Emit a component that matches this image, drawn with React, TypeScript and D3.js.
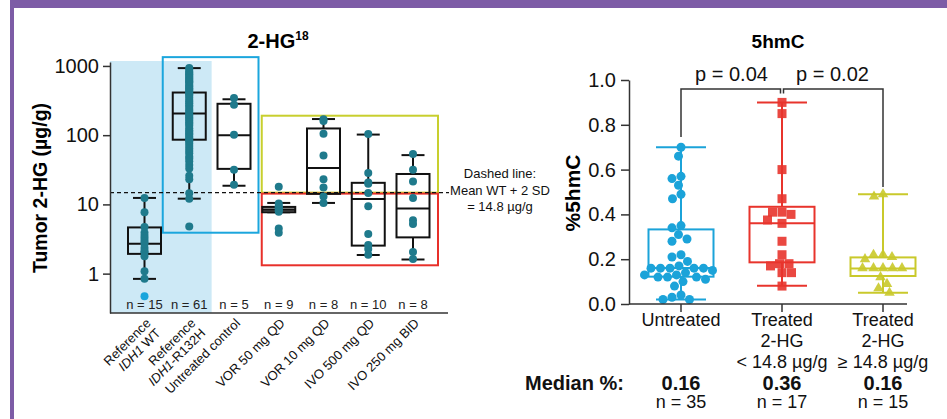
import { useEffect, useRef } from "react";
import * as d3 from "d3";

const W = 947;
const H = 419;
const FONT = "Liberation Sans, Arial, sans-serif";

// ---- left panel: tumor 2-HG (log scale) ----
const hgGroups = ["wt", "r132h", "untreated", "vor50", "vor10", "ivo500", "ivo250"];
const hgN = [15, 61, 5, 9, 8, 10, 8];
const hgQ1 = [1.93, 86, 32.6, 7.7, 14.2, 2.54, 3.34];
const hgMedian = [2.7, 206, 100, 8.4, 33.5, 12, 8.7];
const hgQ3 = [4.65, 413, 284, 9.2, 125, 20.5, 27.5];
const hgLow = [0.84, 12.1, 18.6, 7.7, 10.5, 1.86, 1.6];
const hgHigh = [12.4, 930, 330, 10.5, 171, 102, 51.5];

const wtPoints = [12.4, 7.7, 4.7, 3.9, 3.5, 3.2, 2.9, 2.7, 2.35, 2.1, 2.03, 1.78, 1.08, 0.84];
const wtOutlier = [0.47];
const r132hPoints = [
  930, 880, 827, 790, 758, 720, 693, 660, 628, 600, 581, 550, 519, 500, 476, 455, 435, 410,
  390, 370, 348, 323, 305, 289, 270, 258, 239, 225, 214, 200, 191, 180, 171, 162, 153, 145,
  137, 126, 118, 112, 106, 101, 95, 90, 86, 82, 76, 70, 64, 59, 55, 49, 46, 42, 37, 33, 26,
  23, 14.5, 12.1, 4.8,
];
const untreatedCtrlPoints = [343, 275, 101, 31.7, 19.2];
const vor50Points = [18, 10.3, 9.4, 9.0, 8.6, 8.2, 7.8, 4.5, 3.9];
const vor10Points = [170, 160, 105, 51, 23, 17.5, 13, 10.5];
const ivo500Points = [104, 28.4, 20.8, 19.8, 14.6, 9.4, 3.74, 2.6, 2.27, 1.88];
const ivo250Points = [53.4, 31.7, 21.5, 12.4, 5.9, 5.2, 2.06, 1.63];
const hgPoints = [wtPoints, r132hPoints, untreatedCtrlPoints, vor50Points, vor10Points, ivo500Points, ivo250Points];

const hgTicks = [1, 10, 100, 1000];
const threshold = 14.8;

// ---- right panel: 5hmC ----
const hmcGroups = ["untreated", "low", "high"];
const hmcN = [35, 17, 15];
const hmcMedianText = ["0.16", "0.36", "0.16"];
const hmcQ1 = [0.122, 0.186, 0.125];
const hmcMedian = [0.161, 0.36, 0.159];
const hmcQ3 = [0.333, 0.434, 0.208];
const hmcLow = [0.02, 0.082, 0.05];
const hmcHigh = [0.7, 0.9, 0.49];

const hmcUntreated = [
  0.7, 0.66, 0.57, 0.56, 0.53, 0.49, 0.47, 0.35, 0.34, 0.31, 0.29, 0.28, 0.22, 0.21, 0.19, 0.17,
  0.16, 0.16, 0.16, 0.16, 0.16, 0.15, 0.14, 0.13, 0.13, 0.12, 0.12, 0.12, 0.11, 0.1, 0.08, 0.04,
  0.03, 0.02, 0.02,
];
const hmcLow2hg = [0.9, 0.85, 0.6, 0.47, 0.41, 0.41, 0.4, 0.375, 0.36, 0.28, 0.22, 0.18, 0.18, 0.17, 0.14, 0.14, 0.08];
const hmcHigh2hg = [0.49, 0.48, 0.22, 0.22, 0.21, 0.2, 0.16, 0.16, 0.16, 0.16, 0.16, 0.12, 0.09, 0.07, 0.05];
const hmcPoints = [hmcUntreated, hmcLow2hg, hmcHigh2hg];
const hmcColors = ["#1ba3d9", "#e8342c", "#c9c92b"];
const hmcTicks = [0, 0.2, 0.4, 0.6, 0.8, 1.0];

const TEAL = "#1f7a8c";

// simple greedy beeswarm: returns x offsets
function dodge(ys: number[], d: number) {
  const placed: { x: number; y: number }[] = [];
  const order = ys.map((y, i) => ({ y, i })).sort((a, b) => a.y - b.y);
  const out = new Array(ys.length).fill(0);
  order.forEach(({ y, i }) => {
    let dx = 0;
    for (let k = 0; k < 200; k++) {
      const c = k === 0 ? 0 : (k % 2 ? -1 : 1) * Math.ceil(k / 2) * 0.5;
      const ok = placed.every((p) => (p.x - c) ** 2 + (p.y - y) ** 2 >= d * d);
      if (ok) {
        dx = c;
        break;
      }
    }
    placed.push({ x: dx, y });
    out[i] = dx;
  });
  return out;
}

const App = () => {
  const leftAxis = useRef<SVGGElement>(null);
  const rightAxis = useRef<SVGGElement>(null);

  // left scales
  const yL = d3.scaleLog().domain([0.27, 1140]).range([313, 62]);
  const xL = d3.scalePoint().domain(hgGroups).range([144.5, 413]);
  const stepL = xL.step();
  const axL = 110;

  // right scales
  const yR = d3.scaleLinear().domain([0, 1]).range([304, 80]);
  const xR = d3.scalePoint().domain(hmcGroups).range([681, 883]);
  const axR = 629;

  useEffect(() => {
    const gl = d3.select(leftAxis.current);
    gl.selectAll("*").remove();
    gl.call(
      d3.axisLeft(yL).tickValues(hgTicks).tickFormat(d3.format("d")).tickSize(7).tickSizeOuter(0) as any
    );
    gl.selectAll("text").attr("font-size", 20).attr("font-family", FONT).attr("fill", "#111").attr("dx", "-1");
    gl.selectAll("path,line").attr("stroke", "#333").attr("stroke-width", 1.5);

    const gr = d3.select(rightAxis.current);
    gr.selectAll("*").remove();
    gr.call(
      d3.axisLeft(yR).tickValues(hmcTicks).tickFormat(d3.format(".1f")).tickSize(8).tickSizeOuter(0) as any
    );
    gr.selectAll("text").attr("font-size", 20).attr("font-family", FONT).attr("fill", "#111").attr("dx", "-2");
    gr.selectAll("path,line").attr("stroke", "#333").attr("stroke-width", 1.5);
  }, []);

  const xLabels: { t: string; i?: boolean }[][][] = [
    [[{ t: "Reference" }], [{ t: "IDH1", i: true }, { t: " WT" }]],
    [[{ t: "Reference" }], [{ t: "IDH1", i: true }, { t: "-R132H" }]],
    [[{ t: "Untreated control" }]],
    [[{ t: "VOR 50 mg QD" }]],
    [[{ t: "VOR 10 mg QD" }]],
    [[{ t: "IVO 500 mg QD" }]],
    [[{ t: "IVO 250 mg BID" }]],
  ];

  const hmcLabels = [["Untreated"], ["Treated", "2-HG", "< 14.8 µg/g"], ["Treated", "2-HG", "≥ 14.8 µg/g"]];

  const bracketTop = yR(0.96);
  const c0 = xR(hmcGroups[0])!;
  const c1 = xR(hmcGroups[1])!;
  const c2 = xR(hmcGroups[2])!;

  const sq = d3.symbol(d3.symbolSquare, 81)()!;
  const tri = d3.symbol(d3.symbolTriangle, 48)()!;

  return (
    <svg width={W} height={H} style={{ display: "block", fontFamily: FONT }}>
      <style>{`body{margin:0}`}</style>
      {/* purple frame */}
      <rect x={10} y={0} width={W - 10} height={8} fill="#7d5ca6" />
      <rect x={10} y={0} width={4} height={H} fill="#7d5ca6" />

      {/* ===== left panel ===== */}
      <text x={278} y={48} textAnchor="middle" fontSize={20} fontWeight="bold">
        2-HG<tspan fontSize={12} dy={-8}>18</tspan>
      </text>
      <text transform={`translate(47,188) rotate(-90)`} textAnchor="middle" fontSize={19.5} fontWeight="bold">
        Tumor 2-HG (µg/g)
      </text>

      {/* reference band */}
      <rect
        x={axL}
        y={yL.range()[1] - 1}
        width={xL(hgGroups[1])! + stepL / 2 - axL}
        height={yL.range()[0] - yL.range()[1] + 1}
        fill="#cde9f6"
      />
      {/* group frames */}
      <rect
        x={xL(hgGroups[1])! - 26.5}
        y={yL(1340)}
        width={xL(hgGroups[2])! + 24.5 - (xL(hgGroups[1])! - 26.5)}
        height={yL(3.9) - yL(1340)}
        fill="none"
        stroke="#1ba6dd"
        strokeWidth={2}
      />
      <rect
        x={xL(hgGroups[3])! - 17}
        y={yL(191)}
        width={xL(hgGroups[6])! + 25 - (xL(hgGroups[3])! - 17)}
        height={yL(threshold) - yL(191)}
        fill="none"
        stroke="#c8cf2e"
        strokeWidth={2}
      />
      <rect
        x={xL(hgGroups[3])! - 17}
        y={yL(threshold) + 1}
        width={xL(hgGroups[6])! + 25 - (xL(hgGroups[3])! - 17)}
        height={yL(1.32) - yL(threshold) - 1}
        fill="none"
        stroke="#e8302a"
        strokeWidth={2}
      />

      {/* boxes */}
      {hgGroups.map((g, i) => {
        const cx = xL(g)!;
        const bw = 33;
        const cw = 23;
        return (
          <g key={g} stroke="#111" strokeWidth={2}>
            <line x1={cx} x2={cx} y1={yL(hgHigh[i])} y2={yL(hgQ3[i])} />
            <line x1={cx} x2={cx} y1={yL(hgQ1[i])} y2={yL(hgLow[i])} />
            <line x1={cx - cw / 2} x2={cx + cw / 2} y1={yL(hgHigh[i])} y2={yL(hgHigh[i])} />
            <line x1={cx - cw / 2} x2={cx + cw / 2} y1={yL(hgLow[i])} y2={yL(hgLow[i])} />
            <rect
              x={cx - bw / 2}
              y={yL(hgQ3[i])}
              width={bw}
              height={yL(hgQ1[i]) - yL(hgQ3[i])}
              fill={g === "vor50" ? "#9a9a9a" : "none"}
            />
            <line x1={cx - bw / 2} x2={cx + bw / 2} y1={yL(hgMedian[i])} y2={yL(hgMedian[i])} />
          </g>
        );
      })}

      {/* threshold */}
      <line x1={axL} x2={449} y1={yL(threshold)} y2={yL(threshold)} stroke="#111" strokeWidth={1.3} strokeDasharray="4,3" />
      <g fontSize={13} textAnchor="middle" fill="#111">
        <text x={500} y={178}>Dashed line:</text>
        <text x={500} y={195}>Mean WT + 2 SD</text>
        <text x={500} y={211}>= 14.8 µg/g</text>
      </g>

      {/* points */}
      {hgPoints.map((pts, i) =>
        pts.map((v, j) => <circle key={`${i}-${j}`} cx={xL(hgGroups[i])!} cy={yL(v)} r={4} fill={TEAL} />)
      )}
      {wtOutlier.map((v, j) => (
        <circle key={`o${j}`} cx={xL(hgGroups[0])!} cy={yL(v)} r={4} fill="#19a5dc" />
      ))}

      {/* n labels */}
      {hgGroups.map((g, i) => (
        <text key={g} x={xL(g)!} y={309} textAnchor="middle" fontSize={13} fill="#222">
          n = {hgN[i]}
        </text>
      ))}

      {/* axes */}
      <g ref={leftAxis} transform={`translate(${axL},0)`} />
      <line x1={axL} x2={448} y1={yL.range()[0]} y2={yL.range()[0]} stroke="#333" strokeWidth={1.5} />

      {/* rotated category labels */}
      {hgGroups.map((g, i) => (
        <text
          key={g}
          transform={`translate(${xL(g)! + 7},${324}) rotate(-45)`}
          textAnchor="end"
          fontSize={13}
          fill="#111"
        >
          {xLabels[i].map((line, k) => (
            <tspan key={k} x={0} dy={k === 0 ? 0 : 14}>
              {line.map((s, m) => (
                <tspan key={m} fontStyle={s.i ? "italic" : "normal"}>
                  {s.t}
                </tspan>
              ))}
            </tspan>
          ))}
        </text>
      ))}

      {/* ===== right panel ===== */}
      <text x={778} y={48} textAnchor="middle" fontSize={19} fontWeight="bold">
        5hmC
      </text>
      <text transform={`translate(580,193) rotate(-90)`} textAnchor="middle" fontSize={21} fontWeight="bold">
        %5hmC
      </text>

      {/* brackets */}
      <g fill="none" stroke="#333" strokeWidth={1.5}>
        <path d={`M${c0},${yR(0.745)}V${bracketTop}H${c1 - 1.5}V${yR(0.94)}`} />
        <path d={`M${c1 + 1.5},${yR(0.94)}V${bracketTop}H${c2}V${yR(0.522)}`} />
      </g>
      <g fontSize={20} textAnchor="middle" fill="#111">
        <text x={(c0 + c1) / 2} y={yR(0.997)}>p = 0.04</text>
        <text x={(c1 + c2) / 2} y={yR(0.997)}>p = 0.02</text>
      </g>

      {hmcGroups.map((g, i) => {
        const cx = xR(g)!;
        const bw = 65;
        const cw = 50;
        const col = hmcColors[i];
        const offs = dodge(hmcPoints[i].map((v) => yR(v)), 9.2);
        return (
          <g key={g}>
            <g stroke={col} strokeWidth={2} fill="none">
              <line x1={cx} x2={cx} y1={yR(hmcHigh[i])} y2={yR(hmcQ3[i])} />
              <line x1={cx} x2={cx} y1={yR(hmcQ1[i])} y2={yR(hmcLow[i])} />
              <line x1={cx - cw / 2} x2={cx + cw / 2} y1={yR(hmcHigh[i])} y2={yR(hmcHigh[i])} />
              <line x1={cx - cw / 2} x2={cx + cw / 2} y1={yR(hmcLow[i])} y2={yR(hmcLow[i])} />
              <rect x={cx - bw / 2} y={yR(hmcQ3[i])} width={bw} height={yR(hmcQ1[i]) - yR(hmcQ3[i])} />
              <line x1={cx - bw / 2} x2={cx + bw / 2} y1={yR(hmcMedian[i])} y2={yR(hmcMedian[i])} />
            </g>
            {hmcPoints[i].map((v, j) => {
              const px = cx + offs[j];
              const py = yR(v);
              if (i === 0) return <circle key={j} cx={px} cy={py} r={4.5} fill={col} />;
              return (
                <path
                  key={j}
                  d={i === 1 ? sq : tri}
                  transform={`translate(${px},${py})`}
                  fill={col}
                  fillOpacity={0.9}
                />
              );
            })}
          </g>
        );
      })}

      <g ref={rightAxis} transform={`translate(${axR},0)`} />
      <line x1={axR} x2={907} y1={yR(0)} y2={yR(0)} stroke="#333" strokeWidth={1.5} />
      {hmcGroups.map((g) => (
        <line key={g} x1={xR(g)!} x2={xR(g)!} y1={yR(0)} y2={yR(0) + 8} stroke="#333" strokeWidth={1.5} />
      ))}

      {hmcGroups.map((g, i) => (
        <text key={g} x={xR(g)!} y={326} textAnchor="middle" fontSize={18} fill="#111">
          {hmcLabels[i].map((l, k) => (
            <tspan key={k} x={xR(g)!} dy={k === 0 ? 0 : 21}>
              {l}
            </tspan>
          ))}
        </text>
      ))}

      <text x={525} y={390} fontSize={20} fontWeight="bold" fill="#111">
        Median %:
      </text>
      {hmcGroups.map((g, i) => (
        <g key={g} textAnchor="middle" fill="#111">
          <text x={xR(g)!} y={390} fontSize={20} fontWeight="bold">
            {hmcMedianText[i]}
          </text>
          <text x={xR(g)!} y={408} fontSize={18}>
            n = {hmcN[i]}
          </text>
        </g>
      ))}
    </svg>
  );
};

export default App;
